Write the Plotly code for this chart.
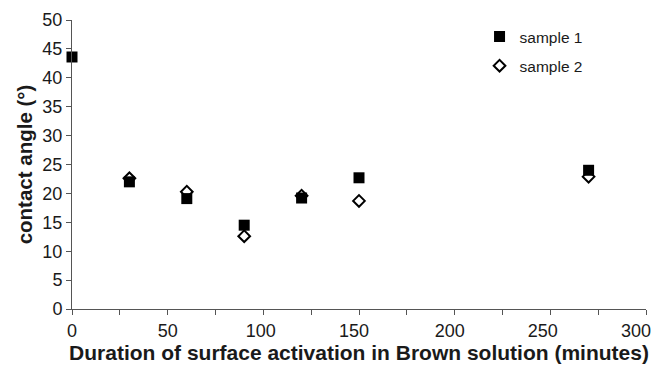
import plotly.graph_objects as go

x_s1 = [0, 30, 60, 90, 120, 150, 270]
y_s1 = [43.6, 22.0, 19.1, 14.5, 19.2, 22.7, 24.0]
x_s2 = [30, 60, 90, 120, 150, 270]
y_s2 = [22.6, 20.3, 12.6, 19.6, 18.7, 22.9]

x_ticks = [0, 50, 100, 150, 200, 250, 300]
x_tick_labels = ["0", "50", "100", "150", "200", "250", "300"]
y_ticks = [0, 5, 10, 15, 20, 25, 30, 35, 40, 45, 50]

# small per-label nudges (non-breaking spaces) so labels sit as in the original
NB = "\u00a0"
x_pad = [4, 4, 3, 2, 2, 1, 0]
x_tick_text = [NB * p + t for p, t in zip(x_pad, x_tick_labels)]

font_family = "Liberation Sans, Arial, sans-serif"
txt = "#1a1a1a"
axc = "#555555"

fig = go.Figure()
fig.add_trace(go.Scatter(
    x=x_s1, y=y_s1, mode="markers", name="sample 1", legendgroup="a",
    cliponaxis=False,
    marker=dict(symbol="square", size=11, color="black", line=dict(width=0)),
))
fig.add_trace(go.Scatter(
    x=x_s2, y=y_s2, mode="markers", name="sample 2", legendgroup="b",
    cliponaxis=False,
    marker=dict(symbol="diamond-open", size=9, color="black", line=dict(width=2)),
))

fig.update_layout(
    width=653, height=371,
    margin=dict(l=72, r=7, t=20, b=62),
    paper_bgcolor="white", plot_bgcolor="white",
    font=dict(family=font_family, color=txt, size=18),
    showlegend=True,
    legend=dict(
        x=0.71, y=1.0, xanchor="left", yanchor="top",
        font=dict(size=15.5, color=txt),
        bgcolor="rgba(0,0,0,0)", tracegroupgap=6, traceorder="grouped",
        itemsizing="trace",
    ),
    xaxis=dict(
        range=[0, 300], tickvals=x_ticks, ticktext=x_tick_text,
        showgrid=False, zeroline=False, showline=True, linecolor=axc, linewidth=1,
        ticks="outside", ticklen=5, tickcolor=axc, automargin=False,
        minor=dict(dtick=25, ticks="outside", ticklen=5, tickcolor=axc, showgrid=False),
        tickfont=dict(size=18, color=txt), ticklabeloverflow="allow",
        ticklabelshift=-10,
        title=dict(text="<b>Duration of surface activation in Brown solution (minutes)</b>",
                   font=dict(size=21, color=txt), standoff=4),
    ),
    yaxis=dict(
        range=[0, 50], tickvals=y_ticks, ticktext=[str(v) for v in y_ticks],
        showgrid=False, zeroline=False, showline=True, linecolor=axc, linewidth=1,
        ticks="outside", ticklen=5, tickcolor=axc, automargin=False,
        tickfont=dict(size=18, color=txt),
        title=dict(text="<b>contact angle (°)</b>", font=dict(size=20.5, color=txt), standoff=4),
    ),
)

fig.write_html("out.html")
